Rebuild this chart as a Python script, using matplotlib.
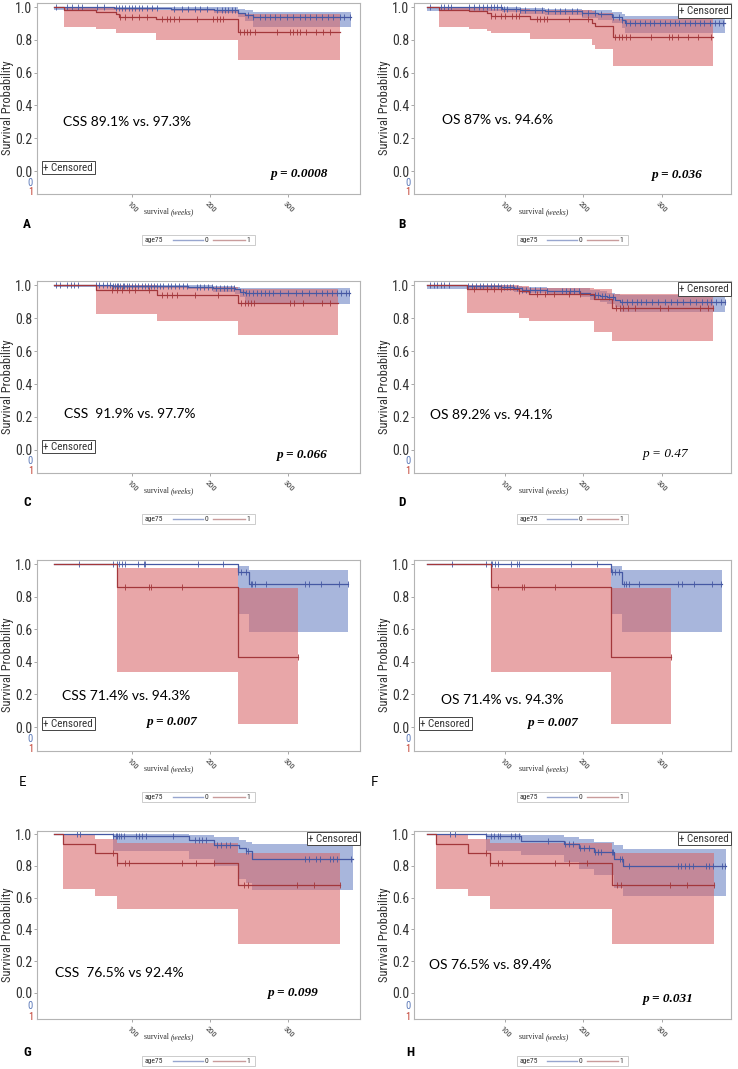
import numpy as np
import matplotlib
matplotlib.use('Agg')
import matplotlib.pyplot as plt
from matplotlib import font_manager
from matplotlib.patches import Rectangle
from matplotlib.transforms import blended_transform_factory

# ---- fonts
installed = {f.name for f in font_manager.fontManager.ttflist}
NARROW = 'DejaVu Sans'
for name in ['Liberation Sans Narrow', 'Roboto Condensed', 'Liberation Sans']:
    if name in installed:
        NARROW = name
        break
SERIF = 'Liberation Serif'
NOTE = 'Lato'

BLUE = '#4558a3'
RED = '#a3373b'
BLUE_BAND = '#6a82c4'
RED_BAND = '#d8676a'

# ---- KM estimates (time in weeks)
# panel A, CSS
A0_time = [0, 77, 150, 205, 236, 245, 255]
A0_surv = [1.0, 0.995, 0.99, 0.985, 0.965, 0.95, 0.937]
A0_low = [0.985, 0.98, 0.975, 0.965, 0.94, 0.915, 0.88]
A0_high = [1.0, 1.0, 1.0, 0.998, 0.99, 0.98, 0.968]
A0_end = 381
A0_cens = [2, 17, 23, 30, 36, 55, 64, 79, 83, 87, 91, 96, 100, 104, 109, 113, 119, 126, 132, 153,
           164, 172, 181, 187, 196, 209, 215, 219, 223, 228, 232, 249, 255, 264, 270, 277, 283, 289,
           298, 306, 315, 321, 328, 336, 343, 351, 357, 366, 372, 379]
A1_time = [0, 13, 53, 79, 83, 130, 236]
A1_surv = [1.0, 0.985, 0.97, 0.955, 0.94, 0.927, 0.847]
A1_low = [1.0, 0.88, 0.867, 0.84, 0.84, 0.80, 0.678]
A1_high = [1.0, 1.0, 1.0, 0.995, 0.99, 0.985, 0.955]
A1_end = 366
A1_cens = [85, 91, 100, 109, 119, 138, 145, 149, 153, 160, 183, 204, 209, 213, 217, 238, 243, 247,
           251, 257, 285, 302, 306, 311, 315, 323, 336, 345, 353]

# panel B, OS
B0_time = [0, 96, 119, 151, 198, 219, 236, 249, 253]
B0_surv = [1.0, 0.99, 0.98, 0.975, 0.965, 0.955, 0.94, 0.92, 0.902]
B0_low = [0.975, 0.97, 0.96, 0.95, 0.935, 0.92, 0.90, 0.87, 0.84]
B0_high = [1.0, 1.0, 0.995, 0.99, 0.985, 0.98, 0.97, 0.955, 0.945]
B0_end = 381
B0_cens = [4, 17, 21, 26, 30, 53, 60, 66, 72, 77, 81, 85, 89, 94, 98, 102, 113, 119, 125, 138, 147,
           155, 164, 170, 177, 185, 192, 198, 206, 215, 223, 238, 245, 249, 255, 260, 266, 272, 279,
           285, 291, 298, 304, 311, 317, 323, 330, 336, 343, 349, 355, 362, 368, 374, 379]
B1_time = [0, 15, 53, 77, 81, 132, 211, 215, 238]
B1_surv = [1.0, 0.985, 0.975, 0.965, 0.947, 0.925, 0.905, 0.886, 0.816]
B1_low = [1.0, 0.88, 0.867, 0.855, 0.84, 0.804, 0.77, 0.745, 0.643]
B1_high = [1.0, 1.0, 1.0, 0.995, 0.99, 0.985, 0.975, 0.965, 0.93]
B1_end = 366
B1_cens = [81, 87, 94, 100, 109, 113, 117, 140, 145, 149, 153, 181, 206, 240, 245, 250, 255, 260,
           287, 309, 313, 321, 334, 347, 364]

# panel C, CSS
C0_time = [0, 74, 172, 204, 232, 238, 245]
C0_surv = [1.0, 0.995, 0.99, 0.98, 0.975, 0.96, 0.95]
C0_low = [0.99, 0.985, 0.975, 0.96, 0.945, 0.925, 0.885]
C0_high = [1.0, 1.0, 1.0, 0.995, 0.99, 0.985, 0.98]
C0_end = 379
C0_cens = [2, 8, 17, 22, 25, 30, 53, 57, 62, 68, 72, 75, 78, 80, 82, 85, 88, 90, 93, 96, 100, 104,
           108, 112, 116, 120, 124, 128, 132, 136, 140, 146, 150, 155, 160, 165, 170, 183, 187, 192,
           197, 202, 208, 213, 218, 222, 227, 231, 242, 246, 250, 255, 260, 265, 270, 275, 280, 290,
           300, 310, 318, 326, 335, 343, 350, 356, 362, 368, 374, 378]
C1_time = [0, 53, 132, 236]
C1_surv = [1.0, 0.97, 0.94, 0.894]
C1_low = [1.0, 0.822, 0.78, 0.70]
C1_high = [1.0, 0.998, 0.99, 0.975]
C1_end = 364
C1_cens = [74, 81, 87, 96, 104, 121, 138, 145, 151, 157, 181, 210, 240, 244, 248, 252, 256, 302,
           308, 319, 343, 353]

# panel D, OS
D0_time = [0, 51, 94, 111, 121, 153, 196, 209, 221, 230, 240, 247]
D0_surv = [1.0, 0.995, 0.99, 0.98, 0.97, 0.965, 0.955, 0.94, 0.935, 0.925, 0.91, 0.90]
D0_low = [0.975, 0.975, 0.975, 0.96, 0.95, 0.94, 0.93, 0.91, 0.90, 0.885, 0.87, 0.835]
D0_high = [1.0, 1.0, 1.0, 0.995, 0.99, 0.985, 0.98, 0.97, 0.965, 0.955, 0.945, 0.94]
D0_end = 381
D0_cens = [4, 8, 12, 17, 22, 28, 52, 57, 62, 67, 72, 77, 82, 86, 90, 94, 98, 102, 106, 110, 115,
           121, 126, 132, 138, 145, 153, 172, 178, 183, 188, 194, 215, 219, 224, 228, 233, 238, 250,
           256, 262, 268, 274, 280, 288, 296, 304, 312, 320, 328, 336, 344, 352, 358, 364, 370, 376, 381]
D1_time = [0, 51, 117, 130, 213, 236]
D1_surv = [1.0, 0.975, 0.965, 0.945, 0.918, 0.859]
D1_low = [1.0, 0.828, 0.80, 0.783, 0.716, 0.66]
D1_high = [1.0, 1.0, 0.995, 0.985, 0.975, 0.949]
D1_end = 366
D1_cens = [60, 77, 85, 94, 117, 140, 151, 162, 181, 196, 242, 247, 251, 257, 266, 298, 308, 349,
           360, 366]

# panels E and F (same estimates)
E0_time = [0, 235, 250]
E0_surv = [1.0, 0.949, 0.877]
E0_low = [1.0, 0.694, 0.581]
E0_high = [1.0, 0.99, 0.965]
E0_end = 377
E0_cens = [32, 75, 81, 83, 87, 91, 107, 115, 117, 184, 217, 236, 240, 246, 252, 254, 258, 271,
           321, 326, 342, 365, 376]
E1_time = [0, 81, 235]
E1_surv = [1.0, 0.857, 0.429]
E1_low = [1.0, 0.337, 0.016]
E1_high = [1.0, 0.975, 0.852]
E1_end = 312
E1_cens = [91, 121, 124, 164, 312]

# panel G, CSS
G0_time = [0, 75, 173, 205, 237, 246, 254]
G0_surv = [1.0, 0.99, 0.964, 0.933, 0.91, 0.891, 0.843]
G0_low = [1.0, 0.897, 0.843, 0.80, 0.717, 0.69, 0.65]
G0_high = [1.0, 1.0, 0.995, 0.985, 0.965, 0.95, 0.937]
G0_end = 383
G0_cens = [29, 33, 75, 79, 81, 83, 86, 89, 105, 109, 113, 118, 152, 180, 185, 190, 194, 209, 214,
           220, 226, 246, 249, 322, 326, 335, 341, 354, 358, 362, 381]
G1_time = [0, 11, 52, 80, 236]
G1_surv = [1.0, 0.941, 0.882, 0.816, 0.68]
G1_low = [1.0, 0.656, 0.608, 0.53, 0.31]
G1_high = [1.0, 1.0, 0.968, 0.943, 0.88]
G1_end = 367
G1_cens = [75, 80, 91, 96, 164, 182, 205, 243, 248, 311, 333, 367]

# panel H, OS (group 1 same as G)
H0_time = [0, 75, 120, 175, 194, 213, 239, 251]
H0_surv = [1.0, 0.99, 0.96, 0.939, 0.912, 0.885, 0.845, 0.80]
H0_low = [1.0, 0.897, 0.866, 0.822, 0.782, 0.74, 0.66, 0.612]
H0_high = [1.0, 1.0, 0.995, 0.985, 0.968, 0.95, 0.933, 0.906]
H0_end = 382
H0_cens = [29, 35, 75, 82, 86, 90, 93, 107, 112, 118, 154, 177, 182, 187, 196, 201, 207, 215, 219,
           222, 236, 238, 247, 249, 258, 321, 325, 330, 335, 340, 357, 361, 366, 378, 381]

letters = ['A', 'B', 'C', 'D', 'E', 'F', 'G', 'H']
notes = ['CSS 89.1% vs. 97.3%', 'OS 87% vs. 94.6%', 'CSS  91.9% vs. 97.7%', 'OS 89.2% vs. 94.1%',
         'CSS 71.4% vs. 94.3%', 'OS 71.4% vs. 94.3%', 'CSS  76.5% vs 92.4%', 'OS 76.5% vs. 89.4%']
pvals = ['p = 0.0008', 'p = 0.036', 'p = 0.066', 'p = 0.47',
         'p = 0.007', 'p = 0.007', 'p = 0.099', 'p = 0.031']

groups = {
    'A': [(A0_time, A0_surv, A0_low, A0_high, A0_end, A0_cens), (A1_time, A1_surv, A1_low, A1_high, A1_end, A1_cens)],
    'B': [(B0_time, B0_surv, B0_low, B0_high, B0_end, B0_cens), (B1_time, B1_surv, B1_low, B1_high, B1_end, B1_cens)],
    'C': [(C0_time, C0_surv, C0_low, C0_high, C0_end, C0_cens), (C1_time, C1_surv, C1_low, C1_high, C1_end, C1_cens)],
    'D': [(D0_time, D0_surv, D0_low, D0_high, D0_end, D0_cens), (D1_time, D1_surv, D1_low, D1_high, D1_end, D1_cens)],
    'E': [(E0_time, E0_surv, E0_low, E0_high, E0_end, E0_cens), (E1_time, E1_surv, E1_low, E1_high, E1_end, E1_cens)],
    'F': [(E0_time, E0_surv, E0_low, E0_high, E0_end, E0_cens), (E1_time, E1_surv, E1_low, E1_high, E1_end, E1_cens)],
    'G': [(G0_time, G0_surv, G0_low, G0_high, G0_end, G0_cens), (G1_time, G1_surv, G1_low, G1_high, G1_end, G1_cens)],
    'H': [(H0_time, H0_surv, H0_low, H0_high, H0_end, H0_cens), (G1_time, G1_surv, G1_low, G1_high, G1_end, G1_cens)],
}

# layout (pixels of the 738x1069 original)
W, H = 738, 1069
col_x = [(37, 360), (414, 731)]
col_xlim = [(-22, 392), (-17, 389)]
row_y = [(3, 194), (281, 473), (560, 751), (831, 1019)]
row_ylim = [(-0.14, 1.025), (-0.14, 1.025), (-0.147, 1.025), (-0.165, 1.02)]
note_pos = [(11, 0.30), (19, 0.31), (13, 0.218), (4, 0.209), (10, 0.19), (18, 0.168), (1, 0.126), (2.5, 0.174)]
p_pos = [(315, -0.02), (320, -0.027), (318, -0.03), (305, -0.022), (151, 0.03), (162, 0.025), (306, -0.004), (309, -0.042)]
cens_box = ['bl', 'tr', 'bl', 'tr', 'bl', 'bl', 'tr', 'tr']
letter_pos = [(-0.031, -0.162), (-0.038, -0.162), (-0.031, -0.156), (-0.038, -0.156),
              (-0.046, -0.162), (-0.126, -0.162), (-0.031, -0.176), (-0.013, -0.176)]


def km_band(ax, time, surv, low, high, end, cens, band_c):
    x = np.append(time, end)
    ax.fill_between(x, np.append(low, low[-1]), np.append(high, high[-1]), step='post',
                    color=band_c, alpha=0.58, lw=0)


def km_line(ax, time, surv, low, high, end, cens, line_c):
    x = np.append(time, end)
    ax.step(x, np.append(surv, surv[-1]), where='post', color=line_c, lw=0.9)
    idx = np.searchsorted(time, cens, side='right') - 1
    ax.plot(cens, np.asarray(surv)[idx], ls='none', marker='|', ms=5, mew=0.6, color=line_c)


def legend_box(ax, y):
    ax.add_patch(Rectangle((0.325, y - 0.027), 0.35, 0.054, transform=ax.transAxes, fill=False,
                           ec='#c4c4c4', lw=0.6, clip_on=False))
    kw = dict(transform=ax.transAxes, va='center', fontsize=5.5, family=NARROW, color='#333333')
    ax.text(0.334, y, 'age75', ha='left', **kw)
    ax.plot([0.421, 0.514], [y, y], transform=ax.transAxes, color='#98a6cf', lw=1.0, clip_on=False)
    ax.text(0.526, y, '0', ha='center', **kw)
    ax.plot([0.545, 0.644], [y, y], transform=ax.transAxes, color='#c99c9c', lw=1.0, clip_on=False)
    ax.text(0.655, y, '1', ha='center', **kw)


fig = plt.figure(figsize=(W / 100, H / 100), dpi=100)

for i, key in enumerate(letters):
    r, c = divmod(i, 2)
    x0, x1 = col_x[c]
    y0, y1 = row_y[r]
    ax = fig.add_axes([x0 / W, 1 - y1 / H, (x1 - x0) / W, (y1 - y0) / H])
    ax.set_xlim(col_xlim[c])
    ax.set_ylim(row_ylim[r])

    g0, g1 = groups[key]
    km_band(ax, *g0, BLUE_BAND)
    km_band(ax, *g1, RED_BAND)
    km_line(ax, *g0, BLUE)
    km_line(ax, *g1, RED)

    # axes styling
    for sp in ax.spines.values():
        sp.set_color('#b4b4b4')
        sp.set_linewidth(0.8)
    ax.set_yticks([0.0, 0.2, 0.4, 0.6, 0.8, 1.0])
    ax.set_yticklabels(['0.0', '0.2', '0.4', '0.6', '0.8', '1.0'], family=NARROW, fontsize=10)
    ax.set_xticks([100, 200, 300])
    ax.set_xticklabels(['100', '200', '300'], family=NARROW, fontsize=6, rotation=-45)
    ax.tick_params(axis='y', length=2, width=0.6, color='#999999', pad=1.5, labelcolor='#333333')
    ax.tick_params(axis='x', length=2.5, width=0.6, color='#999999', pad=2, labelcolor='#333333')
    ax.set_ylabel('Survival Probability', family=NARROW, fontsize=9, color='#333333')
    ax.yaxis.set_label_coords(-0.072, 0.45)

    # at-risk group labels
    ylo = row_ylim[r][0]
    mixed = blended_transform_factory(ax.transAxes, ax.transData)
    ax.text(-0.012, ylo * 0.5, '0', transform=mixed, ha='right', va='center',
            fontsize=7.5, family=NARROW, color='#5a78b8')
    ax.text(-0.012, ylo * 0.92, '1', transform=mixed, ha='right', va='center',
            fontsize=7.5, family=NARROW, color='#c0392b')

    # x label: "survival (weeks)"
    ax.text(0.415, -0.095, 'survival ', transform=ax.transAxes, ha='right', va='center',
            family=SERIF, fontsize=5.5, color='#333333')
    ax.text(0.415, -0.095, '(weeks)', transform=ax.transAxes, ha='left', va='center',
            family=SERIF, style='italic', fontsize=5.5, color='#333333')

    # annotations
    ax.text(*note_pos[i], notes[i], family=NOTE, fontsize=10, ha='left', va='center', color='black')
    pv_weight = 'normal' if key == 'D' else 'bold'
    ax.text(*p_pos[i], pvals[i], family=SERIF, style='italic', weight=pv_weight, fontsize=9.5,
            ha='center', va='center', color='black')

    box = dict(boxstyle='square,pad=0.15', fc='white', ec='#444444', lw=0.7)
    if cens_box[i] == 'bl':
        ax.text(0.02, 0.02, '+ Censored', transform=mixed, ha='left', va='center',
                family=NARROW, fontsize=8, color='#333333', bbox=box)
    else:
        ax.text(0.994, 0.985, '+ Censored', transform=ax.transAxes, ha='right', va='top',
                family=NARROW, fontsize=8, color='#333333', bbox=box)

    lw = 'normal' if key in ('E', 'F') else 'bold'
    lf = NOTE if key in ('E', 'F') else NARROW
    ax.text(*letter_pos[i], key, transform=ax.transAxes, ha='center', va='center',
            family=lf, weight=lw, fontsize=9.5, color='black')

    legend_box(ax, -0.24 if r < 3 else -0.225)

fig.savefig('out.png', dpi=100)
